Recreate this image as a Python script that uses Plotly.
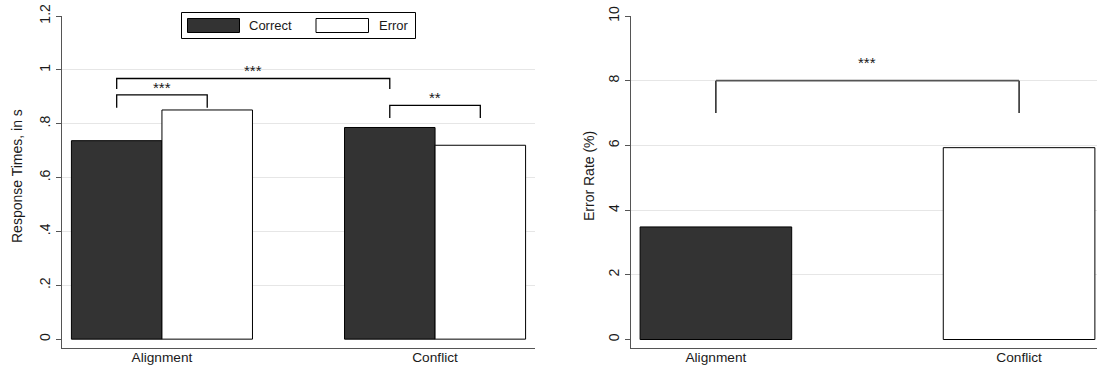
import plotly.graph_objects as go

# ---- data -------------------------------------------------------------
conditions = ["Alignment", "Conflict"]
rt_correct = [0.737, 0.786]      # response time, correct trials (s)
rt_error = [0.851, 0.720]        # response time, error trials (s)
error_rate = [3.48, 5.93]        # error rate (%)

rt_ticks = [0, 0.2, 0.4, 0.6, 0.8, 1.0, 1.2]
rt_ticktext = ["0", ".2", ".4", ".6", ".8", "1", "1.2"]
er_ticks = [0, 2, 4, 6, 8, 10]
er_ticktext = ["0", "2", "4", "6", "8", "10"]

# significance brackets: (left bar, right bar, leg bottom, bar top, label)
# bars indexed as (condition, series) with series 0 = Correct, 1 = Error
rt_brackets = [
    ((0, 0), (0, 1), 0.859, 0.907, "***"),
    ((0, 0), (1, 0), 0.929, 0.968, "***"),
    ((1, 0), (1, 1), 0.821, 0.868, "**"),
]
er_bracket = (0, 1, 7.0, 8.0, "***")

# ---- styling ----------------------------------------------------------
W, H = 1097, 367
FONT = "Liberation Sans, Arial, Helvetica, sans-serif"
TXT = "#1a1a1a"
DARK = "#333333"
GRID = "#e6e6e6"
AXIS = "#555555"
RT_BARGAP = 0.337
ER_BARGAP = 0.5

cat_x = list(range(len(conditions)))
rt_bw = (1 - RT_BARGAP) / 2


def bar_center(cond, series):
    return cat_x[cond] + (series - 0.5) * rt_bw


def px(x):
    return x / W


def py(y):
    return 1 - y / H


fig = go.Figure()

fig.add_trace(go.Bar(
    x=cat_x, y=rt_correct, name="Correct",
    marker=dict(color=DARK, line=dict(color="black", width=1)),
    xaxis="x", yaxis="y", showlegend=False,
))
fig.add_trace(go.Bar(
    x=cat_x, y=rt_error, name="Error",
    marker=dict(color="white", line=dict(color="black", width=1)),
    xaxis="x", yaxis="y", showlegend=False,
))
fig.add_trace(go.Bar(
    x=cat_x, y=error_rate, name="Error rate",
    marker=dict(color=[DARK, "white"], line=dict(color="black", width=1)),
    width=1 - ER_BARGAP,
    xaxis="x2", yaxis="y2", showlegend=False,
))

shapes = []
annotations = []
star_font = dict(family=FONT, size=15, color=TXT)

# brackets on the response-time panel
for (a, b, lo, hi, label) in rt_brackets:
    xa = bar_center(*a)
    xb = bar_center(*b)
    shapes.append(dict(
        type="path", xref="x", yref="y",
        path=f"M {xa},{lo} L {xa},{hi} L {xb},{hi} L {xb},{lo}",
        line=dict(color="black", width=1.3),
    ))
    annotations.append(dict(
        x=(xa + xb) / 2, y=hi, xref="x", yref="y", text=label,
        showarrow=False, yanchor="bottom", yshift=-3, font=star_font,
    ))

# bracket on the error-rate panel
a, b, lo, hi, label = er_bracket
xa, xb = cat_x[a], cat_x[b]
for xv in (xa, xb):
    shapes.append(dict(type="line", xref="x2", yref="y2",
                       x0=xv, x1=xv, y0=lo, y1=hi,
                       line=dict(color="black", width=1.3)))
shapes.append(dict(type="line", xref="x2", yref="y2",
                   x0=xa, x1=xb, y0=hi, y1=hi,
                   line=dict(color=AXIS, width=1.8)))
annotations.append(dict(
    x=(xa + xb) / 2, y=hi, xref="x2", yref="y2", text=label,
    showarrow=False, yanchor="bottom", yshift=8, font=star_font,
))

# legend box drawn in pixel space
shapes.append(dict(type="rect", xref="paper", yref="paper",
                   x0=px(181.5), x1=px(415.5), y0=py(38.5), y1=py(12.5),
                   line=dict(color="black", width=1), fillcolor="white"))
shapes.append(dict(type="rect", xref="paper", yref="paper",
                   x0=px(187.5), x1=px(239.5), y0=py(32.5), y1=py(18.5),
                   line=dict(color="black", width=1), fillcolor=DARK))
shapes.append(dict(type="rect", xref="paper", yref="paper",
                   x0=px(316), x1=px(368.5), y0=py(32.5), y1=py(18.5),
                   line=dict(color="black", width=1), fillcolor="white"))
legend_font = dict(family=FONT, size=13, color=TXT)
annotations.append(dict(x=px(247), y=py(25.5), xref="paper", yref="paper",
                        text="Correct", showarrow=False, xanchor="left",
                        yanchor="middle", font=legend_font))
annotations.append(dict(x=px(377), y=py(25.5), xref="paper", yref="paper",
                        text="Error", showarrow=False, xanchor="left",
                        yanchor="middle", font=legend_font))

# axis titles
title_font = dict(family=FONT, size=14, color=TXT)
annotations.append(dict(x=px(17), y=py(176), xref="paper", yref="paper",
                        text="Response Times, in s", textangle=-90,
                        showarrow=False, xanchor="center", yanchor="middle",
                        font=title_font))
annotations.append(dict(x=px(589), y=py(176), xref="paper", yref="paper",
                        text="Error Rate (%)", textangle=-90,
                        showarrow=False, xanchor="center", yanchor="middle",
                        font=title_font))

ydom = [(H - 347.5) / H, (H - 16) / H]

common_x = dict(
    showgrid=False, zeroline=False, showline=True, linecolor=AXIS,
    linewidth=1.2, ticks="", tickvals=cat_x, ticktext=conditions,
    automargin=False, ticklabelstandoff=-3,
    tickfont=dict(family=FONT, size=13.7, color=TXT),
)
common_y = dict(
    showgrid=False, zeroline=False, showline=True, linecolor=AXIS,
    linewidth=1.2, ticks="outside", ticklen=5, tickcolor=AXIS,
    tickangle=-90, domain=ydom, automargin=False,
    tickfont=dict(family=FONT, size=14, color=TXT),
)

fig.update_layout(
    width=W, height=H,
    margin=dict(l=0, r=0, t=0, b=0),
    paper_bgcolor="white", plot_bgcolor="white",
    barmode="group", bargap=RT_BARGAP, bargroupgap=0,
    showlegend=False,
    xaxis=dict(domain=[62 / W, 535 / W], range=[-0.366, 1.366],
               anchor="y", **common_x),
    yaxis=dict(range=[-0.031, 1.2], tickvals=rt_ticks, ticktext=rt_ticktext,
               anchor="x",
               minor=dict(tickvals=rt_ticks[1:-1], showgrid=True,
                          gridcolor=GRID, gridwidth=1.3, ticks=""),
               **common_y),
    xaxis2=dict(domain=[631 / W, 1.0], range=[-0.28, 1.257],
                anchor="y2", **common_x),
    yaxis2=dict(range=[-0.247, 10], tickvals=er_ticks, ticktext=er_ticktext,
                anchor="x2",
                minor=dict(tickvals=er_ticks[1:-1], showgrid=True,
                           gridcolor=GRID, gridwidth=1.3, ticks=""),
                **common_y),
    shapes=shapes,
    annotations=annotations,
)

fig.write_html("out.html")
